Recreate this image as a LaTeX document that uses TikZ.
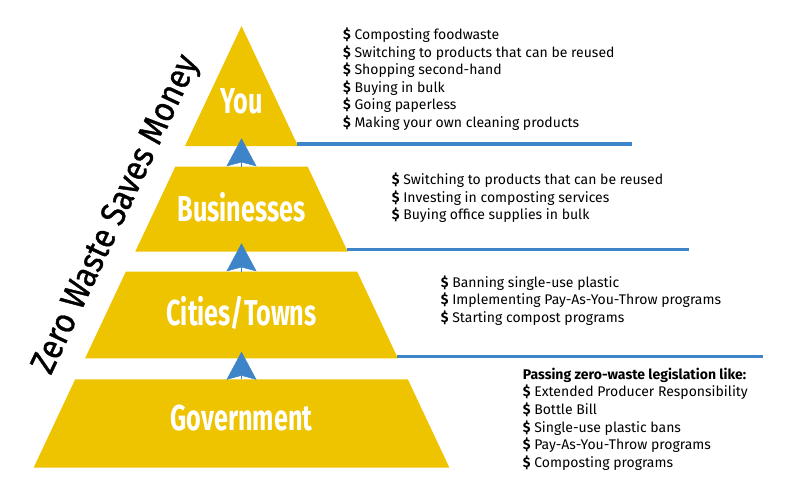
\documentclass[tikz,border=0pt]{standalone}
\usepackage{fontspec}
\setmainfont{Fira Sans}
\newfontfamily\condfont[FakeStretch=0.7]{Fira Sans}
\newfontfamily\mottofont[FakeStretch=0.9,FakeBold=1]{Fira Sans}
\usetikzlibrary{arrows.meta,positioning}
\definecolor{zwyellow}{HTML}{EEC300}
\definecolor{zwblue}{HTML}{3E84C8}
\newcommand{\bul}{\textbf{\$}\ }
\tikzset{
  layer/.style={fill=zwyellow},
  tier/.style={font=\condfont\bfseries\fontsize{36}{36}\selectfont, text=white,
    inner sep=0pt, anchor=base},
  items/.style={font=\fontsize{14}{17.6}\selectfont, align=left, inner sep=0pt,
    anchor=base west},
  rule/.style={draw=zwblue, line width=3.5pt},
  climb/.style={-{Stealth[length=28pt,width=30pt,inset=4pt]}, draw=zwblue,
    fill=zwblue, line width=0.5pt},
  motto/.style={font=\mottofont\fontsize{35}{35}\selectfont, rotate=64.8, inner sep=0pt},
}

\begin{document}
\begin{tikzpicture}[x=1pt,y=-1pt]
\useasboundingbox (0,0) rectangle (800,500);

\fill[layer] (241.5,26) -- (298,146) -- (185,146) -- cycle;
\fill[layer] (175.3,166.7) -- (307.7,166.7) -- (347.8,251.7) -- (135.2,251.7) -- cycle;
\fill[layer] (125.8,271.7) -- (357.2,271.7) -- (397.9,358.3) -- (85.1,358.3) -- cycle;
\fill[layer] (75.2,379.3) -- (407.8,379.3) -- (449.4,467.7) -- (33.6,467.7) -- cycle;

\node[tier] (you) at (241.5,113.5) {You};
\node[tier] (biz) at (241.5,221.5) {Businesses};
\node[tier] (city) at (241.5,325.5) {Cities/Towns};
\node[tier] (gov) at (241.5,430.5) {Government};

\coordinate (youTip) at (241.5,138.3);
\coordinate (bizTop) at (241.5,166.7);
\coordinate (bizTip) at (241.5,243.3);
\coordinate (cityTop) at (241.5,271.7);
\coordinate (cityTip) at (241.5,351.7);
\coordinate (govTop) at (241.5,379.3);

\draw[climb] (bizTop) -- (youTip);
\draw[climb] (cityTop) -- (bizTip);
\draw[climb] (govTop) -- (cityTip);

\coordinate (youR) at (297,144);
\coordinate (youEnd) at (632,144);
\coordinate (bizR) at (346.8,249.7);
\coordinate (bizEnd) at (689,249.7);
\coordinate (cityR) at (397,356.3);
\coordinate (cityEnd) at (763,356.3);

\draw[rule] (youR) -- (youEnd);
\draw[rule] (bizR) -- (bizEnd);
\draw[rule] (cityR) -- (cityEnd);

\node[items] (youlist) at (343,127.5) {\bul Composting foodwaste\\
  \bul Switching to products that can be reused\\
  \bul Shopping second-hand\\
  \bul Buying in bulk\\
  \bul Going paperless\\
  \bul Making your own cleaning products};
\node[items] (bizlist) at (391.7,219.8) {\bul Switching to products that can be reused\\
  \bul Investing in composting services\\
  \bul Buying office supplies in bulk};
\node[items] (citylist) at (440.7,322.2) {\bul Banning single-use plastic\\
  \bul Implementing Pay-As-You-Throw programs\\
  \bul Starting compost programs};
\node[items] (govlist) at (522.7,467.2) {\textbf{Passing zero-waste legislation like:}\\
  \bul Extended Producer Responsibility\\
  \bul Bottle Bill\\
  \bul Single-use plastic bans\\
  \bul Pay-As-You-Throw programs\\
  \bul Composting programs};

\node[motto] (motto) at (117,215) {Zero Waste Saves Money};
\end{tikzpicture}
\end{document}
